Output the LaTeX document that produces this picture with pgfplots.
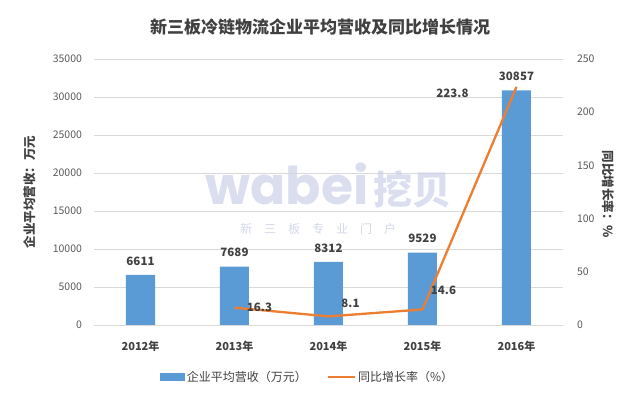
\documentclass[border=0pt]{standalone}
\usepackage{pgfplots}
\pgfplotsset{compat=1.18}
\usepackage{fontspec}
\setmainfont{Noto Sans CJK SC}
\newfontfamily\wmfont{Poppins}
\definecolor{barblue}{HTML}{5B9BD5}
\definecolor{lineorange}{HTML}{ED7D31}
\definecolor{txt}{HTML}{595959}
\definecolor{dark}{HTML}{404040}
\definecolor{gridc}{HTML}{D9D9D9}
\definecolor{wm}{HTML}{CDD3E8}
\begin{document}
\begin{tikzpicture}
\node[font=\bfseries\fontsize{17}{20}\selectfont, text=dark] at (320pt,372pt) {新三板冷链物流企业平均营收及同比增长情况};
\begin{axis}[
  at={(93.5pt,74pt)}, anchor=south west, scale only axis,
  width=470pt, height=266pt,
  xmin=-0.5, xmax=4.5, ymin=0, ymax=35000,
  xtick={0,1,2,3,4},
  xticklabels={2012年,2013年,2014年,2015年,2016年},
  ytick={0,5000,...,35000},
  scaled y ticks=false,
  axis x line*=bottom, axis y line*=left,
  y axis line style={draw=none},
  x axis line style={draw=gridc, line width=0.8pt},
  major tick length=0pt,
  ymajorgrids, grid style={gridc, line width=0.6pt},
  /pgf/number format/1000 sep={},
  /pgf/number format/assume math mode=true,
  yticklabel shift=8pt, xticklabel shift=13pt,
  yticklabel style={font=\fontsize{10.5}{12}\selectfont, text=txt},
  xticklabel style={font=\bfseries\fontsize{11}{13}\selectfont, text=dark},
  ylabel={企业平均营收：万元},
  ylabel style={font=\bfseries\fontsize{12.5}{14}\selectfont, text=dark, anchor=center, at={(axis description cs:-0.135,0.5)}},
  clip=false,
]
\addplot[ybar, bar width=29pt, fill=barblue, draw=none,
  nodes near coords,
  every node near coord/.append style={font=\bfseries\fontsize{11.5}{13}\selectfont, text=dark, yshift=6pt, /pgf/number format/1000 sep={}, /pgf/number format/assume math mode=true}]
  coordinates {(0,6611) (1,7689) (2,8312) (3,9529) (4,30857)};
\end{axis}
\node[font=\wmfont\bfseries\fontsize{52}{52}\selectfont, text=wm, opacity=0.75, anchor=base east] at (372pt,194pt) {wabei};
\node[font=\bfseries\fontsize{39}{40}\selectfont, text=wm, opacity=0.75, anchor=base west] at (370pt,194pt) {挖贝};
\node[font=\fontsize{12}{14}\selectfont, text=wm, opacity=0.9] at (318pt,170pt) {新\hspace{1em}三\hspace{1em}板\hspace{1em}专\hspace{1em}业\hspace{1em}门\hspace{1em}户};
\begin{axis}[
  at={(93.5pt,74pt)}, anchor=south west, scale only axis,
  width=470pt, height=266pt,
  xmin=-0.5, xmax=4.5, ymin=0, ymax=250,
  ytick={0,50,...,250},
  axis y line*=right, axis x line=none,
  y axis line style={draw=none},
  major tick length=0pt,
  /pgf/number format/assume math mode=true,
  yticklabel shift=10pt,
  yticklabel style={font=\fontsize{10.5}{12}\selectfont, text=txt},
  ylabel={同比增长率：\%},
  ylabel style={font=\bfseries\fontsize{12.5}{14}\selectfont, text=dark, rotate=180, anchor=center, at={(axis description cs:1.095,0.49)}},
  clip=false,
  legend style={at={(axis description cs:0.456,-0.195)}, anchor=center, draw=none, fill=none,
    legend columns=2, font=\fontsize{12}{14}\selectfont, text=dark,
    /tikz/every even column/.append style={column sep=18pt}},
]
\addlegendimage{legend image code/.code={\fill[barblue] (0pt,-3.5pt) rectangle (24pt,3.5pt);}}
\addlegendentry{企业平均营收（万元）}
\addplot[lineorange, line width=2.3pt, line join=round, legend image code/.code={\draw[lineorange, line width=2.3pt] (0pt,0pt) -- (27pt,0pt);}]
  coordinates {(1,16.3) (2,8.1) (3,14.6) (4,223.8)};
\addlegendentry{同比增长率（\%）}
\pgfplotsset{lbl/.style={draw=none, mark=none, nodes near coords, forget plot,
  every node near coord/.append style={font=\bfseries\fontsize{11.5}{13}\selectfont, text=dark, anchor=center, /pgf/number format/fixed, /pgf/number format/precision=1, /pgf/number format/assume math mode=true}}}
\addplot[lbl, every node near coord/.append style={xshift=25pt, yshift=0pt}] coordinates {(1,16.3)};
\addplot[lbl, every node near coord/.append style={xshift=22pt, yshift=13pt}] coordinates {(2,8.1)};
\addplot[lbl, every node near coord/.append style={xshift=21pt, yshift=19pt}] coordinates {(3,14.6)};
\addplot[lbl, every node near coord/.append style={xshift=-64pt, yshift=-6pt}] coordinates {(4,223.8)};
\end{axis}
\pgfresetboundingbox
\useasboundingbox (0pt,0pt) rectangle (640pt,399pt);
\end{tikzpicture}
\end{document}
